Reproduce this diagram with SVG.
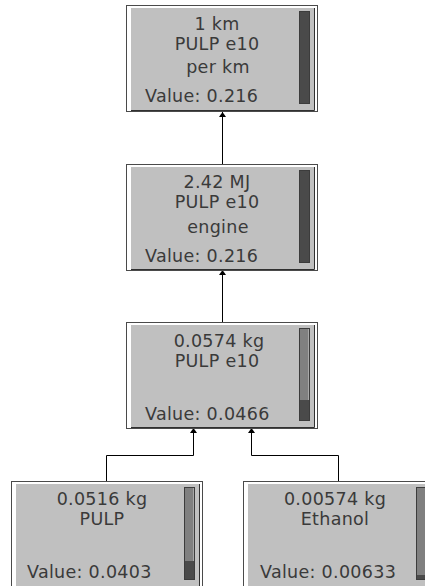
<svg xmlns="http://www.w3.org/2000/svg" width="425" height="586" viewBox="0 0 425 586">
  <style>
    .frame { fill: #ffffff; stroke: #4a4a4a; stroke-width: 1; }
    .panel { fill: #c0c0c0; }
    .shade { fill: none; stroke: #303030; stroke-width: 1; }
    .bar { fill: #808080; stroke: #3c3c3c; stroke-width: 1; }
    .barlit { fill: none; stroke: #a8a8a8; stroke-width: 1; }
    .level { fill: #4a4a4a; }
    .label { font-family: "DejaVu Sans", sans-serif; font-size: 17.5px; letter-spacing: 0.3px; fill: #3a3a3a; }
    .mid { text-anchor: middle; }
    .link { fill: none; stroke: #000000; stroke-width: 1; }
  </style>
  <defs>
    <marker id="tip" markerWidth="5" markerHeight="8" refX="5" refY="4" orient="auto" markerUnits="userSpaceOnUse" viewBox="0 0 5 8">
      <path d="M0,0.5 L5,4 L0,7.5 Z" fill="#000000"/>
    </marker>
    <!-- process box shell: frame, grey panel with shadow edge, level gauge -->
    <g id="shell">
      <rect class="frame" x="0.5" y="0.5" width="191" height="106"/>
      <rect class="panel" x="5" y="3" width="183.5" height="102.5"/>
      <polyline class="shade" points="188.5,3 188.5,105.5 5,105.5"/>
      <rect class="bar" x="173.5" y="6.5" width="10" height="92"/>
      <line class="barlit" x1="182.5" y1="7" x2="182.5" y2="98"/>
    </g>
  </defs>

  <g id="connectors">
    <line class="link" x1="222.5" y1="165" x2="222.5" y2="112" marker-end="url(#tip)"/>
    <line class="link" x1="222.5" y1="323" x2="222.5" y2="270" marker-end="url(#tip)"/>
    <polyline class="link" points="106.5,482 106.5,455.5 193.5,455.5 193.5,428" marker-end="url(#tip)"/>
    <polyline class="link" points="338.5,482 338.5,455.5 251.5,455.5 251.5,428" marker-end="url(#tip)"/>
  </g>

  <g id="node-km" transform="translate(126,5)">
    <use href="#shell"/>
    <rect class="level" x="174" y="7" width="9" height="91"/>
    <text class="label mid" x="91" y="25">1 km</text>
    <text class="label mid" x="91" y="45">PULP e10</text>
    <text class="label mid" x="92" y="68">per km</text>
    <text class="label" x="19" y="97">Value: 0.216</text>
  </g>

  <g id="node-engine" transform="translate(126,164)">
    <use href="#shell"/>
    <rect class="level" x="174" y="7" width="9" height="91"/>
    <text class="label mid" x="91" y="24">2.42 MJ</text>
    <text class="label mid" x="91" y="44">PULP e10</text>
    <text class="label mid" x="92" y="69">engine</text>
    <text class="label" x="19" y="98">Value: 0.216</text>
  </g>

  <g id="node-blend" transform="translate(126,322)">
    <use href="#shell"/>
    <rect class="level" x="174" y="78" width="9" height="20"/>
    <text class="label mid" x="93" y="25">0.0574 kg</text>
    <text class="label mid" x="91" y="45">PULP e10</text>
    <text class="label" x="19" y="98">Value: 0.0466</text>
  </g>

  <g id="node-pulp" transform="translate(11,481)">
    <use href="#shell"/>
    <rect class="level" x="174" y="80" width="9" height="18"/>
    <text class="label mid" x="91" y="24">0.0516 kg</text>
    <text class="label mid" x="91" y="44">PULP</text>
    <text class="label" x="16" y="97">Value: 0.0403</text>
  </g>

  <g id="node-ethanol" transform="translate(243,481)">
    <use href="#shell"/>
    <rect class="level" x="174" y="94" width="9" height="4"/>
    <text class="label mid" x="92" y="24">0.00574 kg</text>
    <text class="label mid" x="92" y="44">Ethanol</text>
    <text class="label" x="17" y="97">Value: 0.00633</text>
  </g>
</svg>
